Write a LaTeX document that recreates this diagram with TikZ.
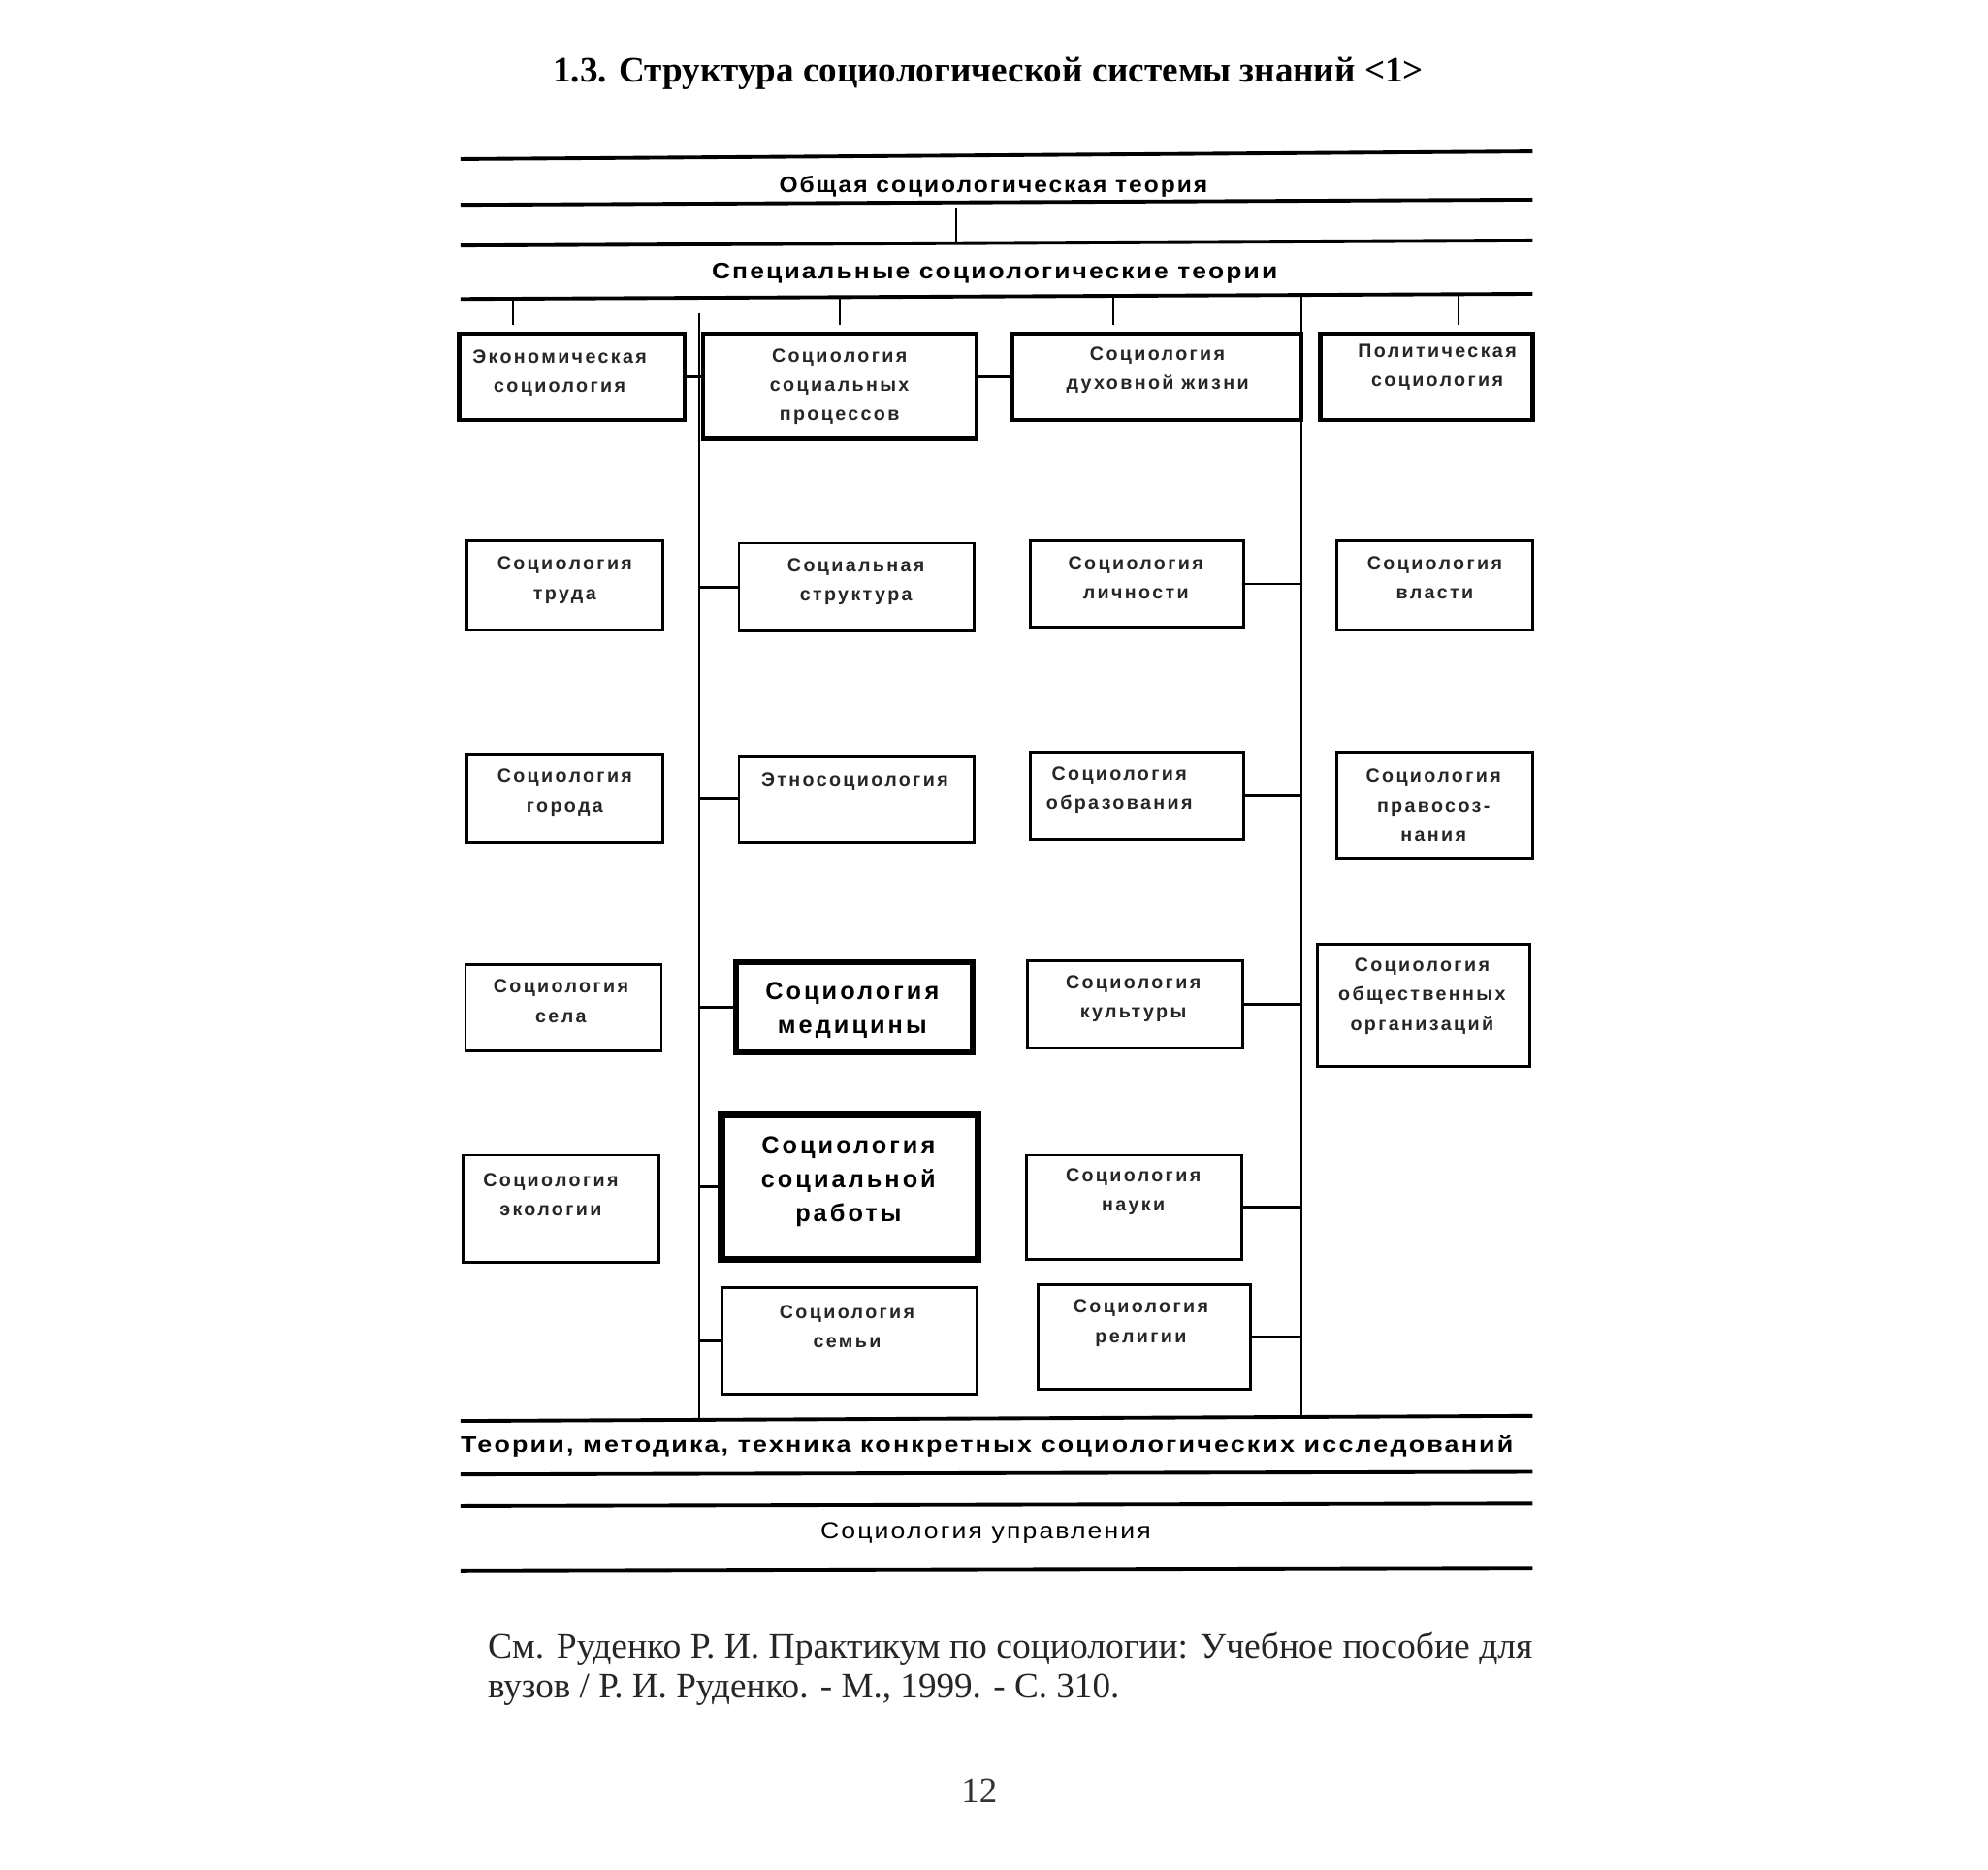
\documentclass[tikz,border=0pt]{standalone}
\usepackage{fontspec}
\setmainfont{Liberation Serif}
\newfontfamily\labf[LetterSpace=12]{Liberation Sans}
\newfontfamily\bandf[LetterSpace=8]{Liberation Sans}
\usetikzlibrary{fit}
\newdimen\du \du=0.3731pt
\begin{document}
\begin{tikzpicture}[x=0.013115cm,y=-0.013115cm,
  hl/.style={line width=1.1pt},
  vl/.style={line width=0.6pt},
  cn/.style={line width=0.8pt},
  tbox/.style={draw, line width=0.8pt, inner sep=0pt},
  hbox/.style={draw, line width=1.2pt, inner sep=0pt},
  mbox/.style={draw, line width=1.7pt, inner sep=0pt},
  wbox/.style={draw, line width=2.2pt, inner sep=0pt},
  lab/.style={font=\labf\bfseries\fontsize{5.6}{8.6}\selectfont, align=center, inner sep=0pt, text=black!85},
  blab/.style={font=\labf\bfseries\fontsize{7.2}{10}\selectfont, align=center, inner sep=0pt},
  band/.style={font=\bandf\bfseries\fontsize{6.6}{8}\selectfont, inner sep=0pt},
  bandr/.style={font=\bandf\fontsize{6.8}{8}\selectfont, inner sep=0pt},
]
\useasboundingbox[fill=white] (0,0) rectangle (1563,1469.3);

% title
\node[font=\bfseries\fontsize{10.5}{12}\selectfont, inner sep=0pt] (title) at (777,58)
  {\resizebox{685\du}{\height}{1.3. Структура социологической системы знаний <1>}};

% horizontal band lines
\coordinate (l1a) at (362,125); \coordinate (l1b) at (1205,119);
\coordinate (l2a) at (362,161); \coordinate (l2b) at (1205,157);
\coordinate (l3a) at (362,193); \coordinate (l3b) at (1205,189);
\coordinate (l4a) at (362,235); \coordinate (l4b) at (1205,231);
\coordinate (l5a) at (362,1117); \coordinate (l5b) at (1205,1113);
\coordinate (l6a) at (362,1159); \coordinate (l6b) at (1205,1157);
\coordinate (l7a) at (362,1184); \coordinate (l7b) at (1205,1182);
\coordinate (l8a) at (362,1235); \coordinate (l8b) at (1205,1233);
\foreach \i in {1,...,8} {\draw[hl] (l\i a) -- (l\i b);}

% band labels
\node[band] (obsh) at (781,147) {\resizebox{337\du}{\height}{Общая социологическая теория}};
\node[band] (spec) at (782,215) {\resizebox{445\du}{\height}{Специальные социологические теории}};
\node[band] (teor) at (776,1137) {\resizebox{828\du}{\height}{Теории, методика, техника конкретных социологических исследований}};
\node[bandr] (upr) at (775,1205) {\resizebox{260\du}{\height}{Социология управления}};

\coordinate (tk1) at (752,163); \coordinate (tk2) at (752,191);
\draw[vl] (tk1) -- (tk2);

% main vertical lines
\coordinate (vLt) at (550,246); \coordinate (vLb) at (550,1116);
\coordinate (vRt) at (1023,232); \coordinate (vRb) at (1023,1113);
\draw[vl] (vLt) -- (vLb);
\draw[vl] (vRt) -- (vRb);

% row 1
\node[hbox, fit={(361,262) (538,330)}] (A) {};
\node[hbox, fit={(553,262) (768,345)}] (B) {};
\node[hbox, fit={(796,262) (1023,330)}] (C) {};
\node[hbox, fit={(1038,262) (1205,330)}] (D) {};
\node[lab] (At) at (440,293) {Экономическая\\социология};
\node[lab] (Bt) at (660,304) {Социология\\социальных\\процессов};
\node[lab] (Ct) at (910,291) {Социология\\духовной жизни};
\node[lab] (Dt) at (1130,289) {Политическая\\социология};

\coordinate (tA) at (403,234.5); \coordinate (tB) at (660,233.5);
\coordinate (tC) at (875,232.5); \coordinate (tD) at (1147,231.5);
\draw[vl, shorten >=2pt] (tA) -- (tA |- A.north);
\draw[vl, shorten >=2pt] (tB) -- (tB |- B.north);
\draw[vl, shorten >=2pt] (tC) -- (tC |- C.north);
\draw[vl, shorten >=2pt] (tD) -- (tD |- D.north);
\draw[cn] (A.east) -- (A.east -| B.west);
\draw[cn] (C.west) -- (C.west -| B.east);

% column 1
\node[tbox, fit={(367,425) (521,495)}] (trud) {};
\node[tbox, fit={(367,593) (521,662)}] (gor) {};
\node[tbox, fit={(366,758) (520,826)}] (selo) {};
\node[tbox, fit={(364,908) (518,992)}] (eko) {};
\node[lab] (trudt) at (444,456) {Социология\\труда};
\node[lab] (gort) at (444,623) {Социология\\города};
\node[lab] (selot) at (441,787) {Социология\\села};
\node[lab] (ekot) at (433,939) {Социология\\экологии};

% column 2
\node[tbox, fit={(581,427) (766,496)}] (sstr) {};
\node[tbox, fit={(581,594) (766,662)}] (etno) {};
\node[mbox, fit={(579,756) (765,827)}] (med) {};
\node[wbox, fit={(567,876) (769,990)}] (srab) {};
\node[tbox, fit={(568,1012) (768,1096)}] (sem) {};
\node[lab] (sstrt) at (673,457) {Социальная\\структура};
\node[lab] (etnot) at (672,614) {Этносоциология};
\node[blab] (medt) at (670,794) {Социология\\медицины};
\node[blab] (srabt) at (667,929) {Социология\\социальной\\работы};
\node[lab] (semt) at (666,1043) {Социология\\семьи};
\foreach \n in {sstr,etno,med,srab,sem} {\draw[cn] (\n.west) -- (\n.west -| vLt);}

% column 3
\node[tbox, fit={(810,425) (978,493)}] (lich) {};
\node[tbox, fit={(810,591) (978,660)}] (obr) {};
\node[tbox, fit={(808,755) (977,824)}] (kult) {};
\node[tbox, fit={(807,908) (976,990)}] (nauk) {};
\node[tbox, fit={(816,1010) (983,1092)}] (rel) {};
\node[lab] (licht) at (893,454) {Социология\\личности};
\node[lab] (obrt) at (880,621) {Социология\\образования};
\node[lab] (kultt) at (891,785) {Социология\\культуры};
\node[lab] (naukt) at (891,937) {Социология\\науки};
\node[lab] (relt) at (897,1040) {Социология\\религии};
\foreach \n in {lich,obr,kult,nauk,rel} {\draw[cn] (\n.east) -- (\n.east -| vRt);}

% column 4
\node[tbox, fit={(1051,425) (1205,495)}] (vlast) {};
\node[tbox, fit={(1051,591) (1205,675)}] (prav) {};
\node[tbox, fit={(1036,742) (1203,838)}] (org) {};
\node[lab] (vlastt) at (1128,454) {Социология\\власти};
\node[lab] (pravt) at (1127,633) {Социология\\правосоз-\\нания};
\node[lab] (orgt) at (1118,783) {Социология\\общественных\\организаций};

% footnote and page number
\node[anchor=west, font=\fontsize{10.5}{12}\selectfont, inner sep=0pt, text=black!85] (fn1) at (383,1296)
  {\resizebox{822\du}{\height}{См. Руденко Р. И. Практикум по социологии: Учебное пособие для}};
\node[anchor=west, font=\fontsize{10.5}{12}\selectfont, inner sep=0pt, text=black!85] (fn2) at (383,1328)
  {\resizebox{497\du}{\height}{вузов / Р. И. Руденко. - М., 1999. - С. 310.}};
\node[font=\fontsize{10.5}{12}\selectfont, inner sep=0pt, text=black!80] (pg) at (770,1408) {12};
\end{tikzpicture}
\end{document}
